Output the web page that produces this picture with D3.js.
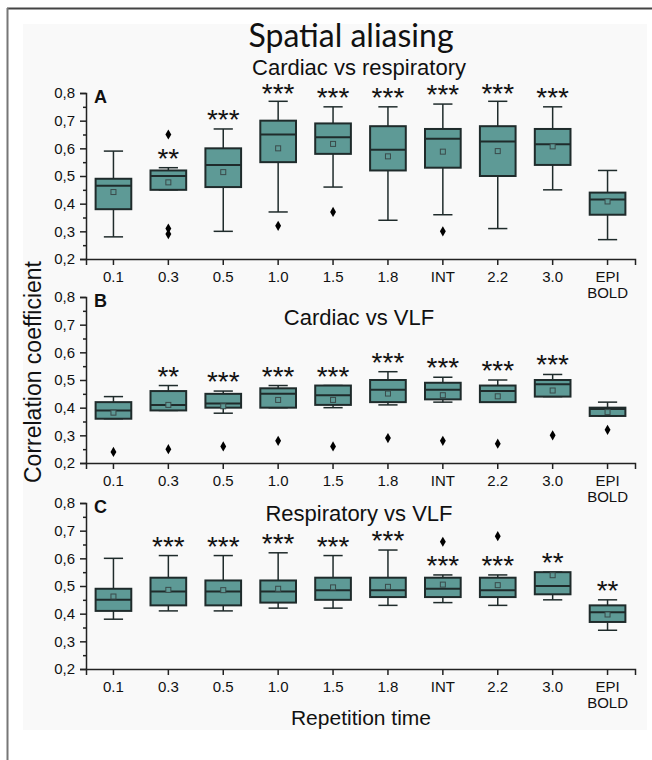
<!DOCTYPE html>
<html>
<head>
<meta charset="utf-8">
<script src="https://cdn.jsdelivr.net/npm/d3@7"></script>
<style>
  body { margin: 0; background: #fff; }
  svg { display: block; }
</style>
</head>
<body>
<div id="chart"></div>
<script>
/* categories along the x axis (repetition time) */
var categories = ["0.1", "0.3", "0.5", "1.0", "1.5", "1.8", "INT", "2.2", "3.0", "EPI BOLD"];
var yTicks = [0.2, 0.3, 0.4, 0.5, 0.6, 0.7, 0.8];

/* box stats per category: [whisker low, q1, median, q3, whisker high] */
var cardiacResp = [
  [0.28, 0.38, 0.465, 0.49, 0.59],
  [0.45, 0.45, 0.50, 0.52, 0.53],
  [0.30, 0.46, 0.54, 0.60, 0.67],
  [0.37, 0.55, 0.65, 0.70, 0.77],
  [0.46, 0.58, 0.64, 0.69, 0.75],
  [0.34, 0.52, 0.595, 0.68, 0.75],
  [0.36, 0.53, 0.635, 0.67, 0.76],
  [0.31, 0.50, 0.625, 0.68, 0.77],
  [0.45, 0.54, 0.615, 0.67, 0.75],
  [0.27, 0.36, 0.415, 0.44, 0.52]
];
var cardiacRespMean = [0.442, 0.477, 0.514, 0.60, 0.616, 0.571, 0.588, 0.59, 0.607, 0.408];
var cardiacRespOut = [[], [0.65, 0.31, 0.29], [], [0.32], [0.37], [], [0.30], [], [], []];
var cardiacRespStars = ["", "**", "***", "***", "***", "***", "***", "***", "***", ""];

var cardiacVlf = [
  [0.36, 0.36, 0.39, 0.42, 0.44],
  [0.39, 0.39, 0.41, 0.46, 0.48],
  [0.38, 0.40, 0.415, 0.45, 0.46],
  [0.40, 0.40, 0.45, 0.47, 0.48],
  [0.40, 0.41, 0.445, 0.48, 0.48],
  [0.41, 0.42, 0.465, 0.50, 0.53],
  [0.42, 0.43, 0.465, 0.49, 0.51],
  [0.42, 0.42, 0.46, 0.48, 0.50],
  [0.44, 0.44, 0.485, 0.50, 0.52],
  [0.37, 0.37, 0.395, 0.40, 0.42]
];
var cardiacVlfMean = [0.382, 0.41, 0.405, 0.428, 0.428, 0.451, 0.445, 0.441, 0.462, 0.384];
var cardiacVlfOut = [[0.24], [0.25], [0.26], [0.28], [0.26], [0.29], [0.28], [0.27], [0.30], [0.32]];
var cardiacVlfStars = ["", "**", "***", "***", "***", "***", "***", "***", "***", ""];

var respVlf = [
  [0.38, 0.41, 0.45, 0.49, 0.60],
  [0.41, 0.43, 0.48, 0.53, 0.61],
  [0.41, 0.43, 0.48, 0.52, 0.61],
  [0.42, 0.44, 0.48, 0.52, 0.62],
  [0.42, 0.45, 0.485, 0.53, 0.61],
  [0.43, 0.46, 0.485, 0.53, 0.63],
  [0.44, 0.46, 0.49, 0.53, 0.54],
  [0.43, 0.46, 0.485, 0.53, 0.54],
  [0.45, 0.47, 0.50, 0.55, 0.55],
  [0.34, 0.37, 0.405, 0.43, 0.45]
];
var respVlfMean = [0.462, 0.486, 0.485, 0.49, 0.495, 0.497, 0.505, 0.503, 0.539, 0.397];
var respVlfOut = [[], [], [], [], [], [], [0.66], [0.68], [], []];
var respVlfStars = ["", "***", "***", "***", "***", "***", "***", "***", "**", "**"];

var W = 652, H = 760;
var teal = "#5e9a96", ink = "#1f2b2b";
var sans = "Arial, 'Liberation Sans', Helvetica, sans-serif";

var svg = d3.select("#chart").append("svg")
  .attr("width", W).attr("height", H);

/* background sheet and frame */
svg.append("rect").attr("width", W).attr("height", H).attr("fill", "#fff");
svg.append("rect").attr("x", 23).attr("y", 24).attr("width", 624).attr("height", 706)
  .attr("fill", "#f9f9f9");
svg.append("line").attr("x1", 7).attr("x2", W).attr("y1", 8.5).attr("y2", 8.5)
  .attr("stroke", "#444").attr("stroke-width", 2);
svg.append("line").attr("x1", 7.5).attr("x2", 7.5).attr("y1", 8).attr("y2", H)
  .attr("stroke", "#777").attr("stroke-width", 2);

var left = 86, right = 635;
var x = d3.scaleBand().domain(categories).range([left, right]).padding(0);
var boxW = x.bandwidth() * 0.65, capW = x.bandwidth() * 0.35;

svg.append("text").attr("x", 351).attr("y", 47)
  .attr("text-anchor", "middle").attr("font-family", "Lato, 'Open Sans', sans-serif")
  .attr("font-size", 32).attr("fill", "#111").text("Spatial aliasing");

svg.append("text").attr("transform", "translate(41,372) rotate(-90)")
  .attr("text-anchor", "middle").attr("font-family", sans).attr("font-size", 23)
  .attr("fill", "#111").text("Correlation coefficient");

svg.append("text").attr("x", 361).attr("y", 725)
  .attr("text-anchor", "middle").attr("font-family", sans).attr("font-size", 21)
  .attr("fill", "#111").text("Repetition time");

var panels = [
  {letter: "A", title: "Cardiac vs respiratory", top: 93, titleY: 75,
   box: cardiacResp, mean: cardiacRespMean, out: cardiacRespOut, stars: cardiacRespStars},
  {letter: "B", title: "Cardiac vs VLF", top: 297, titleY: 325,
   box: cardiacVlf, mean: cardiacVlfMean, out: cardiacVlfOut, stars: cardiacVlfStars},
  {letter: "C", title: "Respiratory vs VLF", top: 503, titleY: 521,
   box: respVlf, mean: respVlfMean, out: respVlfOut, stars: respVlfStars}
];

panels.forEach(function(p) {
  var bottom = p.top + 166;
  var y = d3.scaleLinear().domain([0.2, 0.8]).range([bottom, p.top]);
  var g = svg.append("g");

  /* y axis with minor ticks */
  g.append("g").attr("transform", "translate(" + left + ",0)")
    .call(d3.axisLeft(y).tickValues(yTicks).tickSize(6).tickPadding(5)
      .tickFormat(function(d) { return d3.format(".1f")(d).replace(".", ","); }));
  g.append("g").attr("transform", "translate(" + left + ",0)")
    .call(d3.axisLeft(y).tickValues(d3.range(0.25, 0.8, 0.1)).tickSize(3).tickFormat(""))
    .select(".domain").remove();

  var xAxis = g.append("g").attr("transform", "translate(0," + bottom + ")")
    .call(d3.axisBottom(x).tickSize(6).tickPadding(8).tickFormat(""));
  xAxis.selectAll(".tick").append("text")
    .attr("fill", "#111").attr("text-anchor", "middle")
    .selectAll("tspan")
    .data(function(d) { return d.split(" "); })
    .enter().append("tspan")
    .attr("x", 0).attr("y", function(d, i) { return 23 + i * 16; })
    .text(function(d) { return d; });

  g.selectAll("g").attr("font-family", sans).attr("font-size", 15);
  g.selectAll(".domain, .tick line").attr("stroke", "#222").attr("stroke-width", 1.5);
  g.selectAll(".tick text").attr("fill", "#111");

  g.append("text").attr("x", left + 8).attr("y", p.top + 10)
    .attr("font-family", sans).attr("font-size", 18).attr("font-weight", "bold")
    .attr("fill", "#111").text(p.letter);

  g.append("text").attr("x", 359).attr("y", p.titleY).attr("text-anchor", "middle")
    .attr("font-family", sans).attr("font-size", 22).attr("fill", "#111").text(p.title);

  var items = categories.map(function(c, i) {
    return {cat: c, s: p.box[i], mean: p.mean[i], out: p.out[i], star: p.stars[i]};
  });

  var box = g.selectAll("g.box").data(items).enter().append("g")
    .attr("class", "box")
    .attr("transform", function(d) { return "translate(" + (x(d.cat) + x.bandwidth() / 2) + ",0)"; });

  /* whiskers */
  box.append("line").attr("x1", 0).attr("x2", 0)
    .attr("y1", function(d) { return y(d.s[0]); }).attr("y2", function(d) { return y(d.s[4]); })
    .attr("stroke", ink).attr("stroke-width", 1.5);
  box.selectAll("line.cap").data(function(d) { return [d.s[0], d.s[4]]; })
    .enter().append("line").attr("class", "cap")
    .attr("x1", -capW / 2).attr("x2", capW / 2)
    .attr("y1", function(v) { return y(v); }).attr("y2", function(v) { return y(v); })
    .attr("stroke", ink).attr("stroke-width", 1.5);

  box.append("rect").attr("x", -boxW / 2).attr("width", boxW)
    .attr("y", function(d) { return y(d.s[3]); })
    .attr("height", function(d) { return y(d.s[1]) - y(d.s[3]); })
    .attr("fill", teal).attr("stroke", ink).attr("stroke-width", 2);

  box.append("line").attr("x1", -boxW / 2).attr("x2", boxW / 2)
    .attr("y1", function(d) { return y(d.s[2]); }).attr("y2", function(d) { return y(d.s[2]); })
    .attr("stroke", ink).attr("stroke-width", 2);

  /* mean marker */
  box.append("rect").attr("x", -2.5).attr("width", 5).attr("height", 5)
    .attr("y", function(d) { return y(d.mean) - 2.5; })
    .attr("fill", teal).attr("stroke", "#3a4a4a").attr("stroke-width", 1);

  /* outliers */
  box.selectAll("path.out").data(function(d) { return d.out; })
    .enter().append("path").attr("class", "out")
    .attr("d", d3.symbol().type(d3.symbolDiamond).size(30))
    .attr("transform", function(v) { return "translate(0," + y(v) + ")"; })
    .attr("fill", "#000");

  /* significance stars, glyph centre about 11px above the top whisker */
  box.append("text").attr("text-anchor", "middle")
    .attr("y", function(d) { return Math.max(y(d.s[4]) - 11, p.top - 1) + 11; })
    .attr("font-family", sans).attr("font-size", 28)
    .attr("fill", "#111").text(function(d) { return d.star; });
});
</script>
</body>
</html>
